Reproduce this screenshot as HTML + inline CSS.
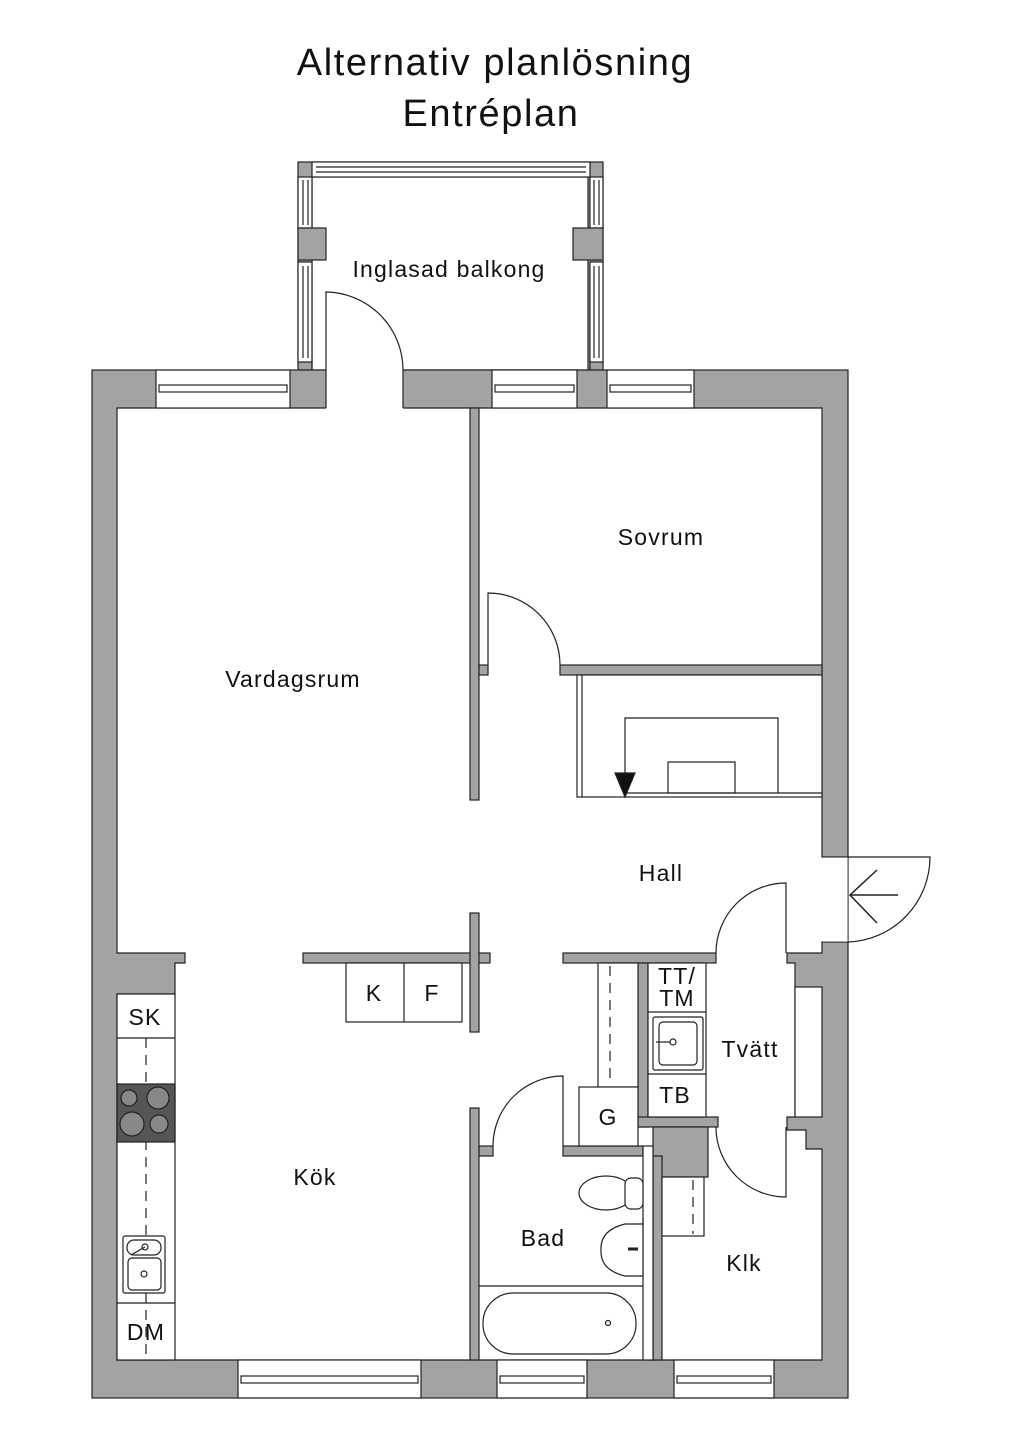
<!DOCTYPE html>
<html><head><meta charset="utf-8"><style>
html,body{margin:0;padding:0;background:#fff;}
svg{display:block;}
text{font-family:"Liberation Sans","DejaVu Sans",sans-serif;fill:#111;text-anchor:middle;dominant-baseline:central;}
</style></head><body>
<svg width="1024" height="1448" viewBox="0 0 1024 1448" xmlns="http://www.w3.org/2000/svg">
<g stroke="#222" stroke-width="1.2">
<!-- balcony -->
<rect x="298" y="162" width="305" height="208" fill="#a3a3a3"/>
<rect x="312" y="177" width="276" height="193" fill="#fff"/>
<rect x="312" y="162" width="278" height="15" fill="#fff"/>
<line x1="316" y1="167" x2="586" y2="167"/><line x1="316" y1="172" x2="586" y2="172"/>
<rect x="298" y="177" width="14" height="51" fill="#fff"/>
<line x1="303" y1="180" x2="303" y2="225"/><line x1="308" y1="180" x2="308" y2="225"/>
<rect x="298" y="228" width="28" height="32" fill="#a3a3a3"/>
<rect x="298" y="262" width="14" height="100" fill="#fff"/>
<line x1="303" y1="266" x2="303" y2="358"/><line x1="308" y1="266" x2="308" y2="358"/>
<rect x="590" y="177" width="13" height="51" fill="#fff"/>
<line x1="594" y1="180" x2="594" y2="225"/><line x1="599" y1="180" x2="599" y2="225"/>
<rect x="573" y="228" width="30" height="32" fill="#a3a3a3"/>
<rect x="590" y="262" width="13" height="100" fill="#fff"/>
<line x1="594" y1="266" x2="594" y2="358"/><line x1="599" y1="266" x2="599" y2="358"/>

<!-- outer shell -->
<rect x="92" y="370" width="756" height="1028" fill="#a3a3a3"/>
<path d="M117,408 H822 V857 H848 V942 H822 V953 H787 V963 H795 V1117 H787 V1130 H806 V1149 H822 V1360 H117 V994 H175 V963 H185 V953 H117 Z" fill="#fff"/>
<rect x="795" y="987" width="27" height="130" fill="#fff"/>
<rect x="822.5" y="857.6" width="26" height="84" fill="#fff" stroke="none"/>
<line x1="848" y1="857" x2="848" y2="942" stroke-width="0.8"/>
<rect x="326" y="369" width="77" height="40" fill="#fff" stroke="none"/>
<line x1="326" y1="370" x2="326" y2="408"/><line x1="403" y1="370" x2="403" y2="408"/>
<g fill="#fff">
<rect x="156" y="370" width="134" height="38"/><rect x="492" y="370" width="85" height="38"/><rect x="607" y="370" width="87" height="38"/>
<rect x="238" y="1360" width="183" height="38"/><rect x="497" y="1360" width="90" height="38"/><rect x="674" y="1360" width="100" height="38"/>
</g>
<g fill="none">
<rect x="159" y="385" width="128" height="7"/><rect x="495" y="385" width="79" height="7"/><rect x="610" y="385" width="81" height="7"/>
<rect x="241" y="1376" width="177" height="7"/><rect x="500" y="1376" width="84" height="7"/><rect x="677" y="1376" width="94" height="7"/>
</g>
<line x1="312" y1="370" x2="312" y2="360"/><line x1="590" y1="370" x2="590" y2="360"/>

<!-- interior walls -->
<g fill="#a3a3a3">
<rect x="470" y="408" width="9" height="392"/>
<rect x="479" y="665" width="9" height="10"/>
<rect x="560" y="665" width="262" height="10"/>
<rect x="303" y="953" width="187" height="10"/>
<rect x="470" y="913" width="9" height="119"/>
<rect x="563" y="953" width="153" height="10"/>
<rect x="638" y="963" width="10" height="164"/>
<rect x="638" y="1117" width="80" height="10"/>
<rect x="653" y="1127" width="55" height="50"/>
<rect x="653" y="1156" width="9" height="204"/>
<rect x="563" y="1146" width="80" height="10"/>
<rect x="479" y="1146" width="14" height="10"/>
<rect x="470" y="1108" width="9" height="252"/>
</g>
<rect x="643" y="1146" width="10" height="214" fill="#fff"/>

<!-- doors -->
<g fill="none">
<path d="M326,370 V292 A78,78 0 0 1 403,370"/>
<path d="M488,665 V593 A72,72 0 0 1 560,665"/>
<path d="M786,953 V883 A70,70 0 0 0 716,953"/>
<path d="M786,1127 V1197 A70,70 0 0 1 716,1127"/>
<path d="M563,1146 V1076 A70,70 0 0 0 493,1146"/>
<path d="M848,857 H930 A85,85 0 0 1 848,942"/>
<path d="M850,895 H898 M877,870 L850,895 L877,923" stroke-width="1.5"/>
</g>

<!-- hall closet -->
<g fill="none">
<rect x="577" y="675" width="245" height="122" fill="#fff"/>
<line x1="582" y1="675" x2="582" y2="797"/>
<path d="M625,793 V718 H778 V793"/>
<rect x="668" y="762" width="67" height="31"/>
<line x1="625" y1="793" x2="822" y2="793"/>
</g>
<polygon points="615,773 635,773 625,797" fill="#111"/>

<rect x="346" y="963" width="116" height="59" fill="#fff"/>
<line x1="404" y1="963" x2="404" y2="1022"/>

<!-- kitchen counter -->
<rect x="117" y="994" width="58" height="366" fill="#fff"/>
<line x1="117" y1="1038" x2="175" y2="1038"/><line x1="117" y1="1303" x2="175" y2="1303"/>
<line x1="146" y1="1038" x2="146" y2="1360" stroke-dasharray="10,7"/>
<rect x="117" y="1084" width="58" height="58" fill="#555"/>
<g fill="#888"><circle cx="129" cy="1098" r="8"/><circle cx="158" cy="1098" r="11"/><circle cx="132" cy="1124" r="12"/><circle cx="159" cy="1124" r="9"/></g>
<rect x="123" y="1236" width="42" height="57" rx="2" fill="#fff"/>
<rect x="127" y="1240" width="34" height="15" rx="7" fill="#fff"/>
<rect x="128" y="1258" width="33" height="32" rx="4" fill="#fff"/>
<circle cx="145" cy="1247" r="3" fill="none"/><circle cx="144" cy="1274" r="3" fill="none"/>
<line x1="145" y1="1247" x2="131" y2="1255"/>

<rect x="598" y="963" width="40" height="124" fill="#fff"/>
<line x1="610" y1="966" x2="610" y2="1085" stroke-dasharray="10,7"/>
<rect x="579" y="1087" width="59" height="59" fill="#fff"/>
<rect x="648" y="963" width="58" height="154" fill="#fff"/>
<line x1="648" y1="1012" x2="706" y2="1012"/><line x1="648" y1="1074" x2="706" y2="1074"/>
<rect x="653" y="1017" width="50" height="53" rx="2" fill="#fff"/>
<rect x="659" y="1022" width="38" height="43" rx="4" fill="#fff"/>
<circle cx="673" cy="1042" r="3" fill="none"/><line x1="656" y1="1042" x2="670" y2="1042"/>
<rect x="662" y="1177" width="42" height="59" fill="#fff"/>
<line x1="693" y1="1180" x2="693" y2="1234" stroke-dasharray="10,7"/>
<line x1="479" y1="1286" x2="643" y2="1286"/>
<rect x="483" y="1293" width="153" height="61" rx="30" fill="#fff"/>
<circle cx="608" cy="1323" r="2.5" fill="none"/>
<ellipse cx="606" cy="1193" rx="27" ry="17" fill="#fff"/>
<rect x="625" y="1178" width="18" height="31" rx="6" fill="#fff"/>
<path d="M643,1224 H625 Q600,1230 601,1250 Q600,1270 625,1276 H643" fill="#fff"/>
<line x1="628" y1="1249" x2="638" y2="1249" stroke-width="3"/>
<line x1="643" y1="1218" x2="643" y2="1276"/>
</g>

<text x="495" y="63" font-size="38" letter-spacing="1.6">Alternativ planlösning</text>
<text x="491" y="114" font-size="38" letter-spacing="1.6">Entréplan</text>
<g font-size="23" letter-spacing="1.2">
<text x="449" y="269">Inglasad balkong</text>
<text x="661" y="537">Sovrum</text>
<text x="293" y="679">Vardagsrum</text>
<text x="661" y="873">Hall</text>
<text x="374" y="993">K</text>
<text x="432" y="993">F</text>
<text x="145" y="1017">SK</text>
<text x="315" y="1177">Kök</text>
<text x="750" y="1049">Tvätt</text>
<text x="677" y="976">TT/</text>
<text x="677" y="998">TM</text>
<text x="675" y="1095">TB</text>
<text x="608" y="1117">G</text>
<text x="543" y="1238">Bad</text>
<text x="744" y="1263">Klk</text>
<text x="146" y="1332">DM</text>
</g>
</svg>
</body></html>
